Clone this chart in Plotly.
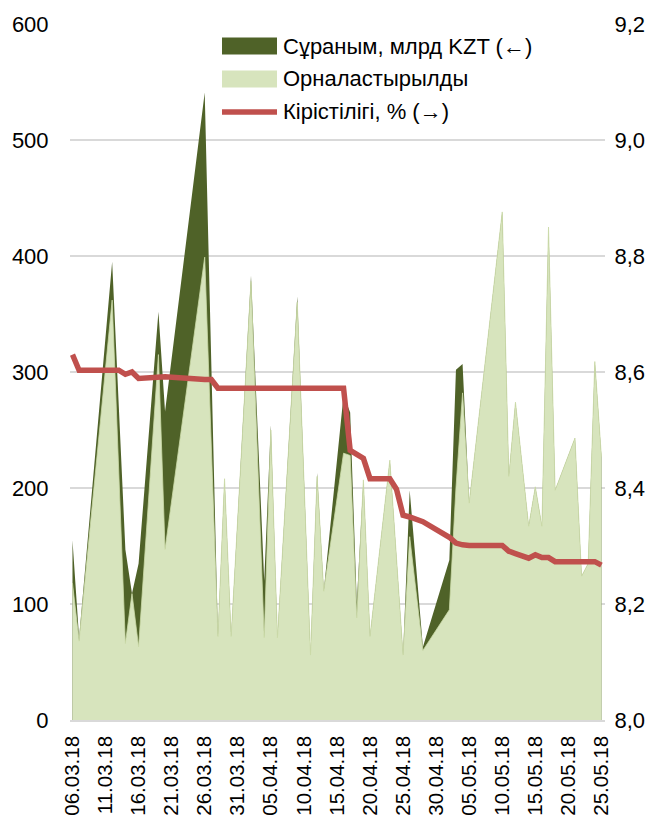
import plotly.graph_objects as go

# ---------------- data ----------------
area_dates = [
    "2018-03-06", "2018-03-07", "2018-03-12", "2018-03-14", "2018-03-15", "2018-03-16",
    "2018-03-19", "2018-03-20", "2018-03-26", "2018-03-28", "2018-03-29", "2018-03-30",
    "2018-04-02", "2018-04-04", "2018-04-05", "2018-04-06", "2018-04-09", "2018-04-11",
    "2018-04-12", "2018-04-13", "2018-04-16", "2018-04-17", "2018-04-18", "2018-04-19",
    "2018-04-20", "2018-04-23", "2018-04-25", "2018-04-26", "2018-04-28", "2018-05-02",
    "2018-05-03", "2018-05-04", "2018-05-05", "2018-05-10", "2018-05-11", "2018-05-12",
    "2018-05-14", "2018-05-15", "2018-05-16", "2018-05-17", "2018-05-18", "2018-05-21",
    "2018-05-22", "2018-05-23", "2018-05-24", "2018-05-25",
]
demand = [155, 71, 395, 147, 109, 135, 352, 266, 541, 72, 208, 72,
          383, 120, 254, 71, 365, 56, 213, 111, 280, 265, 101, 207,
          72, 224, 56, 198, 63, 138, 302, 307, 187, 438, 210, 274,
          167, 201, 167, 425, 198, 243, 124, 135, 309, 227]
placed = [118, 68, 362, 66, 109, 63, 315, 147, 399, 72, 208, 72,
          378, 71, 250, 71, 360, 56, 210, 111, 230, 228, 88, 207,
          72, 224, 56, 158, 60, 95, 200, 282, 187, 438, 210, 274,
          167, 201, 167, 425, 198, 243, 124, 135, 309, 227]

yield_dates = [
    "2018-03-06", "2018-03-07", "2018-03-12", "2018-03-13", "2018-03-14", "2018-03-15",
    "2018-03-16", "2018-03-19", "2018-03-20", "2018-03-26", "2018-03-27", "2018-03-28",
    "2018-04-16", "2018-04-17", "2018-04-18", "2018-04-19", "2018-04-20", "2018-04-23",
    "2018-04-24", "2018-04-25", "2018-04-26", "2018-04-27", "2018-04-28", "2018-05-02",
    "2018-05-03", "2018-05-04", "2018-05-05", "2018-05-10", "2018-05-11", "2018-05-12",
    "2018-05-14", "2018-05-15", "2018-05-16", "2018-05-17", "2018-05-18", "2018-05-21",
    "2018-05-22", "2018-05-23", "2018-05-24", "2018-05-25",
]
yield_pct = [8.630, 8.603, 8.603, 8.603, 8.596, 8.600, 8.589, 8.592, 8.592, 8.587,
             8.587, 8.572, 8.572, 8.465, 8.457, 8.451, 8.416, 8.416, 8.398, 8.353,
             8.350, 8.345, 8.342, 8.315, 8.305, 8.302, 8.301, 8.301, 8.291, 8.287,
             8.279, 8.285, 8.280, 8.280, 8.273, 8.273, 8.273, 8.273, 8.273, 8.267]

series_names = ["Сұраным, млрд KZT (←)", "Орналастырылды", "Кірістілігі, % (→)"]
left_ticks = [0, 100, 200, 300, 400, 500, 600]
right_ticks = [8.0, 8.2, 8.4, 8.6, 8.8, 9.0, 9.2]

# ---------------- style ----------------
DARK = "#4F6228"
LIGHT = "#D7E4BD"
RED = "#C0504D"
GRID = "#D9D9D9"
FONT = "Liberation Sans, Arial, sans-serif"
FS = 22

W, H = 663, 823
OFF = 8  # page body margin in the browser
# plot area in screen pixels, converted to figure pixels
PL, PR, PT, PB = 70 - OFF, 605 - OFF, 24 - OFF, 720 - OFF


def px(x):  # screen x -> paper
    return (x - OFF - PL) / (PR - PL)


def py(y):  # screen y -> paper
    return (PB - (y - OFF)) / (PB - PT)


fig = go.Figure()
fig.add_trace(go.Scatter(
    x=area_dates, y=demand, name=series_names[0], mode="lines",
    line=dict(width=0, color=DARK), fill="tozeroy", fillcolor=DARK,
    showlegend=False,
))
fig.add_trace(go.Scatter(
    x=area_dates, y=placed, name=series_names[1], mode="lines",
    line=dict(width=0.8, color="#CBDBA8"), fill="tozeroy", fillcolor=LIGHT,
    showlegend=False,
))
fig.add_trace(go.Scatter(
    x=yield_dates, y=yield_pct, name=series_names[2], mode="lines",
    line=dict(width=5.5, color=RED), yaxis="y2", showlegend=False,
))

# custom legend (swatches + real text)
rows = [46, 79, 112]
shapes = [
    dict(type="rect", xref="paper", yref="paper", x0=px(222), x1=px(277),
         y0=py(rows[0] + 8.5), y1=py(rows[0] - 8.5), fillcolor=DARK, line=dict(width=0)),
    dict(type="rect", xref="paper", yref="paper", x0=px(222), x1=px(277),
         y0=py(rows[1] + 8.5), y1=py(rows[1] - 8.5), fillcolor=LIGHT, line=dict(width=0)),
    dict(type="line", xref="paper", yref="paper", x0=px(222), x1=px(277),
         y0=py(rows[2]), y1=py(rows[2]), line=dict(color=RED, width=5.5)),
]
annotations = [
    dict(xref="paper", yref="paper", x=px(281), y=py(r), text=t, showarrow=False,
         xanchor="left", yanchor="middle", font=dict(family=FONT, size=FS, color="#000000"))
    for r, t in zip(rows, series_names)
]

fig.update_layout(
    width=W, height=H,
    margin=dict(l=PL, r=W - PR, t=PT, b=H - PB, pad=0, autoexpand=False),
    paper_bgcolor="white", plot_bgcolor="white",
    font=dict(family=FONT, size=FS, color="#000000"),
    separators=",.",
    showlegend=False,
    shapes=shapes,
    annotations=annotations,
    xaxis=dict(
        type="date", automargin=False,
        range=["2018-03-05 15:00", "2018-05-25 13:00"],
        tick0="2018-03-06", dtick=5 * 86400000,
        tickformat="%d.%m.%y", tickangle=-90,
        tickfont=dict(family=FONT, size=20.5, color="#000000"),
        ticks="outside", ticklen=6, tickcolor="rgba(0,0,0,0)",
        showgrid=False, showline=True, linecolor=GRID, linewidth=1.5,
        zeroline=False,
    ),
    yaxis=dict(
        automargin=False,
        range=[0, 600], tickvals=left_ticks,
        ticks="outside", ticklen=16, tickcolor="rgba(0,0,0,0)",
        showgrid=True, gridcolor=GRID, gridwidth=1.5,
        zeroline=False, showline=False,
    ),
    yaxis2=dict(
        automargin=False,
        range=[8.0, 9.2], tickvals=right_ticks, tickformat=".1f",
        overlaying="y", side="right",
        ticks="outside", ticklen=4, tickcolor="rgba(0,0,0,0)",
        showgrid=False, zeroline=False, showline=False,
    ),
)

fig.write_html("out.html")
